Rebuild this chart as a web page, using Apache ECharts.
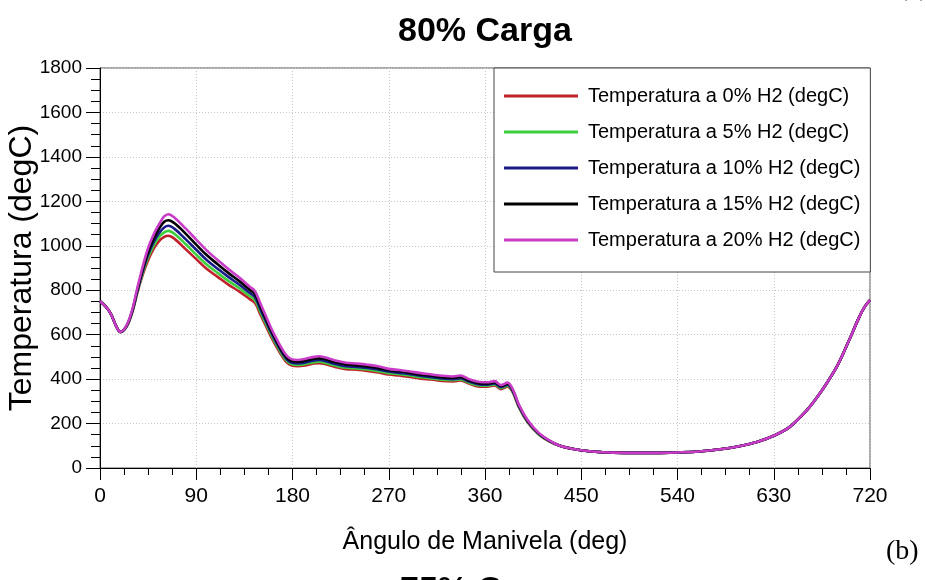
<!DOCTYPE html>
<html>
<head>
<meta charset="utf-8">
<title>80% Carga</title>
<script src="https://cdn.jsdelivr.net/npm/echarts@6/dist/echarts.min.js"></script>
<style>
  html, body { margin: 0; padding: 0; background: #ffffff; }
  #chart { width: 925px; height: 580px; }
</style>
</head>
<body>
<div id="chart"></div>
<script>
// Crank angle samples (deg)
const angles = [0, 5, 10, 15, 19, 25, 30, 35, 40, 45, 50, 55, 60, 64, 70, 80, 90, 100, 110, 120, 130, 140, 145,
  150, 155, 160, 165, 170, 175, 180, 185, 190, 200, 205, 210, 220, 230, 240, 250, 260, 270, 280, 290, 300, 310,
  320, 330, 337, 345, 355, 362, 369, 375, 381, 386, 392, 400, 410, 420, 430, 440, 450, 460, 470, 480, 500, 520,
  540, 560, 580, 600, 615, 630, 645, 660, 670, 680, 690, 700, 710, 715, 720];

// In-cylinder temperature (degC) for each hydrogen fraction
const temp0 = [750, 728, 695, 640, 612, 638, 698, 790, 870, 935, 985, 1020, 1040, 1045, 1030, 985, 940, 895, 860, 825, 795, 760, 742,
  690, 640, 590, 545, 505, 473, 460, 458, 460, 470, 472, 468, 455, 445, 442, 437, 430, 421, 416, 410, 402, 398,
  392, 390, 394, 380, 366, 366, 372, 355, 366, 340, 270, 205, 152, 120, 100, 88, 80, 74, 71, 69, 68, 68,
  70, 74, 84, 100, 118, 145, 185, 255, 315, 385, 465, 570, 680, 725, 755];
const temp5 = [750, 728, 695, 640, 612, 639, 700, 794, 878, 948, 1000, 1038, 1060, 1067, 1052, 1008, 960, 915, 878, 842, 810, 774, 755,
  702, 651, 600, 554, 513, 480, 466, 464, 466, 476, 478, 474, 461, 451, 448, 443, 436, 427, 422, 416, 408, 403,
  397, 395, 399, 384, 371, 370, 376, 359, 370, 343, 272, 207, 153, 121, 100, 88, 80, 74, 71, 69, 68, 68,
  70, 74, 84, 100, 118, 145, 185, 255, 315, 385, 465, 570, 680, 725, 755];
const temp10 = [750, 728, 695, 640, 612, 640, 702, 798, 886, 960, 1015, 1055, 1082, 1090, 1075, 1030, 982, 935, 897, 860, 826, 788, 768,
  714, 662, 610, 563, 521, 487, 473, 471, 473, 484, 486, 482, 468, 458, 455, 450, 443, 434, 428, 422, 414, 409,
  403, 400, 404, 389, 376, 375, 381, 364, 375, 346, 275, 209, 155, 122, 100, 88, 80, 74, 71, 69, 68, 68,
  70, 74, 84, 100, 118, 145, 185, 255, 315, 385, 465, 570, 680, 725, 755];
const temp15 = [750, 728, 695, 640, 612, 641, 705, 803, 895, 972, 1030, 1075, 1108, 1115, 1100, 1055, 1005, 957, 917, 878, 842, 802, 782,
  727, 673, 620, 572, 529, 495, 480, 478, 481, 492, 494, 490, 476, 466, 462, 457, 450, 440, 435, 428, 420, 415,
  409, 406, 410, 394, 381, 380, 386, 369, 379, 350, 278, 212, 157, 123, 100, 88, 80, 74, 71, 69, 68, 68,
  70, 74, 84, 100, 118, 145, 185, 255, 315, 385, 465, 570, 680, 725, 755];
const temp20 = [750, 728, 695, 640, 612, 643, 710, 812, 908, 990, 1050, 1095, 1132, 1142, 1125, 1078, 1028, 978, 936, 896, 858, 816, 795,
  740, 685, 630, 582, 538, 503, 488, 486, 489, 500, 503, 498, 484, 474, 470, 465, 458, 446, 441, 434, 427, 421,
  415, 412, 416, 400, 387, 386, 391, 373, 384, 354, 282, 215, 159, 124, 100, 88, 80, 74, 71, 69, 68, 68,
  70, 74, 84, 100, 118, 145, 185, 255, 315, 385, 465, 570, 680, 725, 755];

const seriesNames = [
  'Temperatura a 0% H2 (degC)',
  'Temperatura a 5% H2 (degC)',
  'Temperatura a 10% H2 (degC)',
  'Temperatura a 15% H2 (degC)',
  'Temperatura a 20% H2 (degC)'
];
const seriesValues = [temp0, temp5, temp10, temp15, temp20];
const seriesColors = ['#c0202a', '#3ccf3c', '#1a1a8a', '#000000', '#c83cc8'];

const sans = '"Liberation Sans", Arial, sans-serif';

const chart = echarts.init(document.getElementById('chart'), null, { renderer: 'canvas' });

const series = seriesValues.map((vals, i) => ({
  name: seriesNames[i],
  type: 'line',
  data: angles.map((a, k) => [a, vals[k]]),
  smooth: 0.35,
  showSymbol: false,
  symbol: 'none',
  lineStyle: { color: seriesColors[i], width: 2.6 },
  itemStyle: { color: seriesColors[i] },
  z: 2 + i
}));

chart.setOption({
  backgroundColor: '#ffffff',
  animation: false,
  title: {
    text: '80% Carga',
    left: 393,
    top: 10,
    textStyle: { fontFamily: sans, fontWeight: 'bold', fontSize: 34, color: '#000' }
  },
  grid: {
    left: 100, right: 55, top: 68, bottom: 112,
    outerBoundsMode: 'none',
    containLabel: false,
    show: true, borderColor: '#555', borderWidth: 1, backgroundColor: 'transparent'
  },
  legend: {
    orient: 'vertical',
    left: 494, top: 68,
    padding: [15, 10, 19, 10],
    backgroundColor: '#ffffff',
    borderColor: '#444', borderWidth: 1,
    icon: 'rect',
    itemWidth: 74, itemHeight: 3,
    itemGap: 10,
    textStyle: { fontFamily: sans, fontSize: 20, lineHeight: 26, color: '#000', padding: [0, 0, 0, 5] },
    data: seriesNames
  },
  xAxis: {
    type: 'value',
    min: 0, max: 720, interval: 90,
    name: 'Ângulo de Manivela (deg)',
    nameLocation: 'middle',
    nameGap: 62,
    nameMoveOverlap: false,
    nameTextStyle: { fontFamily: sans, fontSize: 25, color: '#000' },
    axisLine: { show: true, lineStyle: { color: '#000', width: 1 } },
    axisTick: { show: true, inside: false, length: 12, lineStyle: { color: '#000' } },
    minorTick: { show: true, splitNumber: 4, length: 7, lineStyle: { color: '#000' } },
    axisLabel: { fontFamily: sans, fontSize: 21, color: '#000', margin: 18, formatter: v => String(v) },
    splitLine: { show: true, lineStyle: { color: '#c8c8c8', type: [1, 2], width: 1 } }
  },
  yAxis: {
    type: 'value',
    min: 0, max: 1800, interval: 200,
    name: 'Temperatura (degC)',
    nameLocation: 'middle',
    nameGap: 62,
    nameMoveOverlap: false,
    nameTextStyle: { fontFamily: sans, fontSize: 32, color: '#000' },
    axisLine: { show: true, lineStyle: { color: '#000', width: 1 } },
    axisTick: { show: true, inside: false, length: 14, lineStyle: { color: '#000' } },
    minorTick: { show: true, splitNumber: 4, length: 9, lineStyle: { color: '#000' } },
    axisLabel: { fontFamily: sans, fontSize: 19, color: '#000', margin: 18, formatter: v => String(v) },
    splitLine: { show: true, lineStyle: { color: '#c8c8c8', type: [1, 2], width: 1 } }
  },
  graphic: [
    {
      type: 'text', left: 886, top: 538, z: 10,
      style: { text: '(b)', font: '28px "Liberation Serif", "Times New Roman", serif', fill: '#000' }
    },
    {
      type: 'text', left: 898, top: -26, z: 10,
      style: { text: '(a)', font: '28px "Liberation Serif", "Times New Roman", serif', fill: '#000' }
    },
    {
      type: 'text', left: 400, top: 574, z: 10,
      style: { text: '75% Carga', font: 'bold 34px "Liberation Sans", Arial, sans-serif', fill: '#000' }
    }
  ],
  series: series
});
</script>
</body>
</html>
